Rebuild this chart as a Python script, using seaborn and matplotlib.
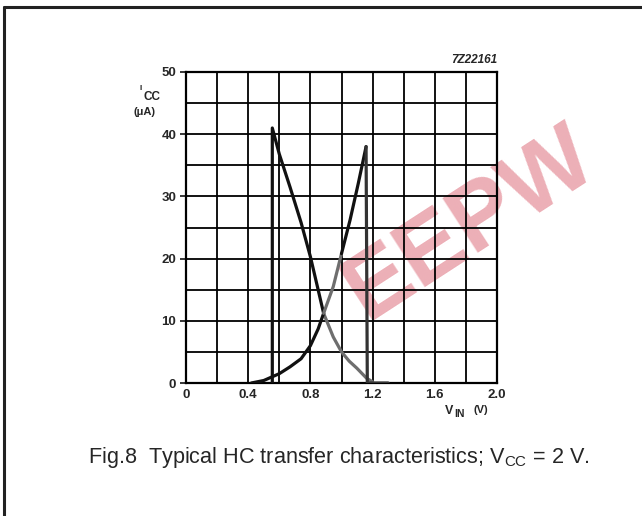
import matplotlib
matplotlib.use("Agg")
import matplotlib.pyplot as plt
import seaborn as sns
import pandas as pd
from matplotlib.lines import Line2D

# ---- data ----
# descending curve: vertical rise at ~0.555 V then decay
fall_x_dark = [0.555, 0.555, 0.60, 0.669, 0.74, 0.80, 0.845, 0.885]
fall_y_dark = [0.0, 41.0, 36.8, 31.5, 25.8, 20.3, 15.5, 11.2]
fall_x_grey = [0.885, 0.947, 1.00, 1.05, 1.098, 1.162, 1.20]
fall_y_grey = [11.2, 7.4, 5.0, 3.5, 2.4, 0.75, 0.2]

# rising curve: exponential-like rise then vertical drop at ~1.166 V
rise_x_dark1 = [0.42, 0.50, 0.60, 0.669, 0.74, 0.80, 0.85, 0.885]
rise_y_dark1 = [0.0, 0.4, 1.5, 2.6, 3.9, 6.0, 8.7, 11.2]
rise_x_grey = [0.885, 0.947, 1.00]
rise_y_grey = [11.2, 15.5, 20.8]
rise_x_dark2 = [1.00, 1.055, 1.108, 1.158]
rise_y_dark2 = [20.8, 26.2, 32.1, 38.0]
drop_x = [1.158, 1.166, 1.30]
drop_y = [38.0, 0.0, 0.0]

x_ticks = [0, 0.4, 0.8, 1.2, 1.6, 2.0]
x_tick_labels = ["0", "0.4", "0.8", "1.2", "1.6", "2.0"]
y_ticks = [0, 10, 20, 30, 40, 50]
y_tick_labels = ["0", "10", "20", "30", "40", "50"]

sns.set_style("white")
plt.rcParams['font.family'] = ['Liberation Sans', 'DejaVu Sans']

fig = plt.figure(figsize=(6.42, 5.16), dpi=100)
fig.patch.set_facecolor("white")
ax = fig.add_axes([186/642, 1-383/516, 311/642, 311/516])
ax.patch.set_facecolor("none")

def seg(xs, ys, color):
    df = pd.DataFrame({"x": xs, "y": ys})
    sns.lineplot(data=df, x="x", y="y", sort=False, estimator=None, ax=ax,
                 color=color, linewidth=2.3, zorder=5)

seg(fall_x_dark, fall_y_dark, "#111111")
seg(fall_x_grey, fall_y_grey, "#6e6e6e")
seg(rise_x_dark1, rise_y_dark1, "#111111")
seg(rise_x_grey, rise_y_grey, "#6e6e6e")
seg(rise_x_dark2, rise_y_dark2, "#111111")
seg(drop_x, drop_y, "#333333")

ax.set_xlim(0, 2.0)
ax.set_ylim(0, 50)
ax.set_xticks([i * 0.2 for i in range(11)], minor=True)
ax.set_yticks([i * 5 for i in range(11)], minor=True)
ax.set_xticks(x_ticks)
ax.set_yticks(y_ticks)
ax.set_xticklabels(x_tick_labels, fontweight="bold", fontsize=9.5)
ax.set_yticklabels(y_tick_labels, fontweight="bold", fontsize=9.5)
ax.grid(True, which="both", color="black", linewidth=1.3)
ax.set_axisbelow(True)
ax.tick_params(axis="y", which="major", direction="out", length=4, width=1.3, pad=3, left=True)
ax.tick_params(axis="x", which="major", direction="out", length=0, pad=4, bottom=True)
ax.tick_params(which="minor", length=0)
for s in ax.spines.values():
    s.set_color("black")
    s.set_linewidth(1.6)
ax.set_xlabel("")
ax.set_ylabel("")

# axis labels as text
fig.text(140/642, 1-88/516, "I", fontsize=6, fontweight="bold", ha="left", va="center")
fig.text(144/642, 1-97/516, "CC", fontsize=8.5, fontweight="bold", ha="left", va="center")
fig.text(134/642, 1-112/516, "(\u03bcA)", fontsize=8, fontweight="bold", ha="left", va="center")
fig.text(445/642, 1-411/516, "V", fontsize=9, fontweight="bold", ha="left", va="center")
fig.text(454/642, 1-414/516, "IN", fontsize=7.5, fontweight="bold", ha="left", va="center")
fig.text(473/642, 1-410/516, "(V)", fontsize=8, fontweight="bold", ha="left", va="center")
fig.text(497/642, 1-60/516, "7Z22161", fontsize=8.5, fontweight="bold", style="italic",
         ha="right", va="center")

# caption
fig.text(88/642, 1-458/516, r"Fig.8  Typical HC transfer characteristics; V$_{\mathregular{CC}}$ = 2 V.",
         fontsize=15.6, ha="left", va="center")

# watermark
fig.text(470/642, 1-225/516, "EEPW", fontsize=68, fontweight="bold", color="#e07a86",
         alpha=0.6, rotation=33, ha="center", va="center", zorder=-1)

# page frame
fig.add_artist(Line2D([4/642, 1.0], [1-7/516, 1-7/516], transform=fig.transFigure,
                      color="#222222", linewidth=2.2))
fig.add_artist(Line2D([4/642, 4/642], [1-7/516, 0.0], transform=fig.transFigure,
                      color="#222222", linewidth=2.2))

fig.savefig("out.png", dpi=100)
